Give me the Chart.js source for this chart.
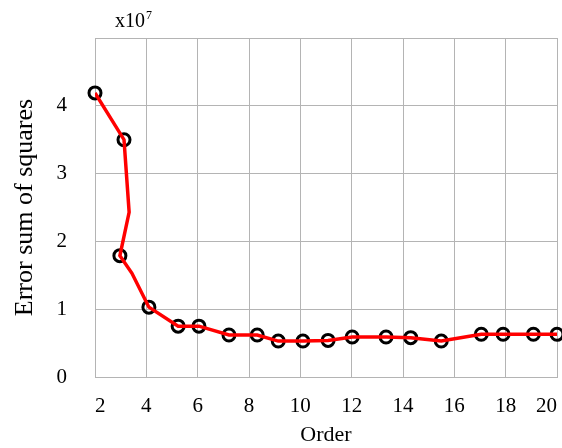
<!DOCTYPE html>
<html>
<head>
<meta charset="utf-8">
<script src="https://cdn.jsdelivr.net/npm/chart.js@4"></script>
<style>
  html, body { margin: 0; padding: 0; background: #fff; }
  #wrap { width: 562px; height: 448px; }
</style>
</head>
<body>
<div id="wrap"><canvas id="myChart" width="562" height="448"></canvas></div>
<script>
// red curve vertices (order, SSE in units of 1e7)
const lineOrder = [2, 3.13, 3.33, 2.97, 3.44, 4.1, 5.24, 6.05, 7.22, 8.32, 9.14, 10.1, 11.08, 12.02, 13.34, 14.3, 15.49, 17.05, 17.9, 19.08, 20];
const lineSse = [4.19, 3.5, 2.43, 1.79, 1.53, 1.03, 0.75, 0.75, 0.62, 0.62, 0.53, 0.53, 0.54, 0.59, 0.59, 0.58, 0.53, 0.63, 0.63, 0.63, 0.63];
// circle markers
const markerOrder = [2, 3.13, 2.97, 4.1, 5.24, 6.05, 7.22, 8.32, 9.14, 10.1, 11.08, 12.02, 13.34, 14.3, 15.49, 17.05, 17.9, 19.08, 20];
const markerSse = [4.19, 3.5, 1.79, 1.03, 0.75, 0.75, 0.62, 0.62, 0.53, 0.53, 0.54, 0.59, 0.59, 0.58, 0.53, 0.63, 0.63, 0.63, 0.63];
const xTicks = [2, 4, 6, 8, 10, 12, 14, 16, 18, 20];
const yTicks = [0, 1, 2, 3, 4];

const FONT = '"Liberation Serif", "Times New Roman", serif';
const toPoints = (xs, ys) => xs.map((x, i) => ({ x, y: ys[i] }));

const exponentLabel = {
  id: 'exponentLabel',
  afterDraw(chart) {
    const { ctx, chartArea } = chart;
    ctx.save();
    ctx.fillStyle = '#000';
    ctx.textBaseline = 'alphabetic';
    ctx.font = `20px ${FONT}`;
    const x = chartArea.left + 20;
    const y = chartArea.top - 11;
    ctx.fillText('x10', x, y);
    const w = ctx.measureText('x10').width;
    ctx.font = `12px ${FONT}`;
    ctx.fillText('7', x + w + 1, y - 8);
    ctx.restore();
  },
};

const myChart = new Chart(document.getElementById('myChart').getContext('2d'), {
  type: 'scatter',
  data: {
    datasets: [
      {
        label: 'curve',
        data: toPoints(lineOrder, lineSse),
        showLine: true,
        borderColor: '#ff0000',
        borderWidth: 3.5,
        pointRadius: 0,
        tension: 0,
      },
      {
        label: 'markers',
        data: toPoints(markerOrder, markerSse),
        showLine: false,
        pointRadius: 6,
        pointBorderWidth: 3,
        pointBorderColor: '#000',
        pointBackgroundColor: 'rgba(0,0,0,0)',
        clip: false,
      },
    ],
  },
  plugins: [exponentLabel],
  options: {
    responsive: false,
    animation: false,
    layout: { autoPadding: false, padding: { top: 38, right: 5, left: 0, bottom: 0 } },
    plugins: { legend: { display: false }, tooltip: { enabled: false } },
    scales: {
      x: {
        type: 'linear',
        min: 2,
        max: 20,
        afterBuildTicks: (scale) => { scale.ticks = xTicks.map((v) => ({ value: v })); },
        afterFit: (scale) => { scale.height = 71; scale.paddingLeft = 0; scale.paddingRight = 0; },
        grid: { color: '#b4b4b4', lineWidth: 1, drawTicks: false },
        border: { color: '#b4b4b4' },
        ticks: { color: '#000', font: { family: FONT, size: 21 }, padding: 17, align: 'inner', maxRotation: 0 },
        title: { display: true, text: 'Order', color: '#000', font: { family: FONT, size: 22 }, padding: { top: 5, bottom: 0 } },
      },
      y: {
        min: 0,
        max: 5,
        afterBuildTicks: (scale) => { scale.ticks = yTicks.concat([5]).map((v) => ({ value: v })); },
        afterFit: (scale) => { scale.width = 95; scale.paddingTop = 0; scale.paddingBottom = 0; },
        grid: { color: '#b4b4b4', lineWidth: 1, drawTicks: false },
        border: { color: '#b4b4b4' },
        ticks: {
          color: '#000',
          font: { family: FONT, size: 21 },
          padding: 28,
          callback: (v) => (yTicks.includes(v) ? String(v) : ''),
        },
        title: { display: true, text: 'Error sum of squares', color: '#000', font: { family: FONT, size: 26 }, padding: { top: 10, bottom: 0 } },
      },
    },
  },
});
</script>
</body>
</html>
